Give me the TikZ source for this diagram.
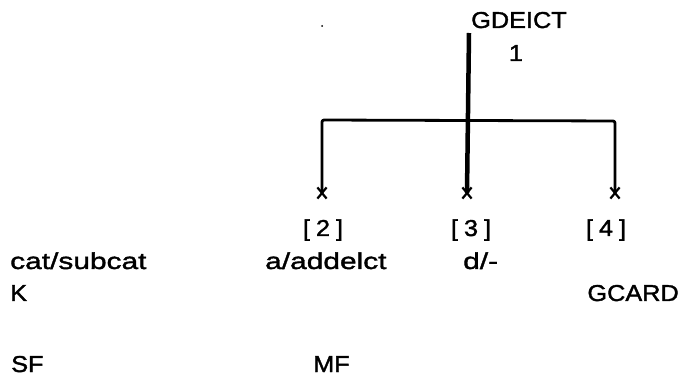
\documentclass[tikz,border=0pt]{standalone}
\usepackage{fontspec}
\setmainfont{Liberation Sans}[FakeStretch=1.3,FakeBold=1.6]
\newfontfamily\capsfont{Liberation Sans}[FakeStretch=1.1,FakeBold=1.6]
\usetikzlibrary{shapes.misc}
\tikzset{
  lbl/.style={anchor=base west, inner sep=0pt, font=\fontsize{23}{27}\selectfont},
  caplbl/.style={anchor=base west, inner sep=0pt, font=\capsfont\fontsize{23}{27}\selectfont},
  capc/.style={anchor=base, inner sep=0pt, font=\capsfont\fontsize{23}{27}\selectfont},
  xmark/.style={cross out, draw, minimum width=7pt, minimum height=9pt, inner sep=0pt, line width=2.2pt},
  thin line/.style={line width=2.8pt, line join=round, rounded corners=2pt},
  thick line/.style={line width=4.5pt}
}
\begin{document}
\begin{tikzpicture}[x=1pt,y=-1pt]
\useasboundingbox (0,0) rectangle (681,377);
% top label
\node[caplbl] (g) at (471,28) {GDEICT};
\node[capc] (one) at (516,61) {1};
\fill (322,26) circle (1pt);
% junctions
\coordinate (top) at (469,33);
\coordinate (jl) at (322,120);
\coordinate (jr) at (615,121);
\node[xmark] (x2) at (322,193) {};
\node[xmark] (x3) at (467,193) {};
\node[xmark] (x4) at (615,193) {};
\draw[thick line] (top) -- (x3.center);
\draw[thin line] (x2.center) -- (jl) -- (jr) -- (x4.center);
% bracket labels
\node[capc] (b2) at (323,236) {[\hspace{6pt}2\hspace{6pt}]};
\node[capc] (b3) at (471,236) {[\hspace{6pt}3\hspace{6pt}]};
\node[capc] (b4) at (606,236) {[\hspace{6pt}4\hspace{6pt}]};
% rows
\node[lbl] (cat) at (10,269) {cat/subcat};
\node[lbl] (add) at (265,269) {a/addelct};
\node[lbl] (d) at (463,269) {d/-};
\node[caplbl] (k) at (10,301) {K};
\node[caplbl, anchor=base east] (gcard) at (679,301) {GCARD};
\node[caplbl] (sf) at (11,372) {SF};
\node[caplbl] (mf) at (313,372) {MF};
\end{tikzpicture}
\end{document}
